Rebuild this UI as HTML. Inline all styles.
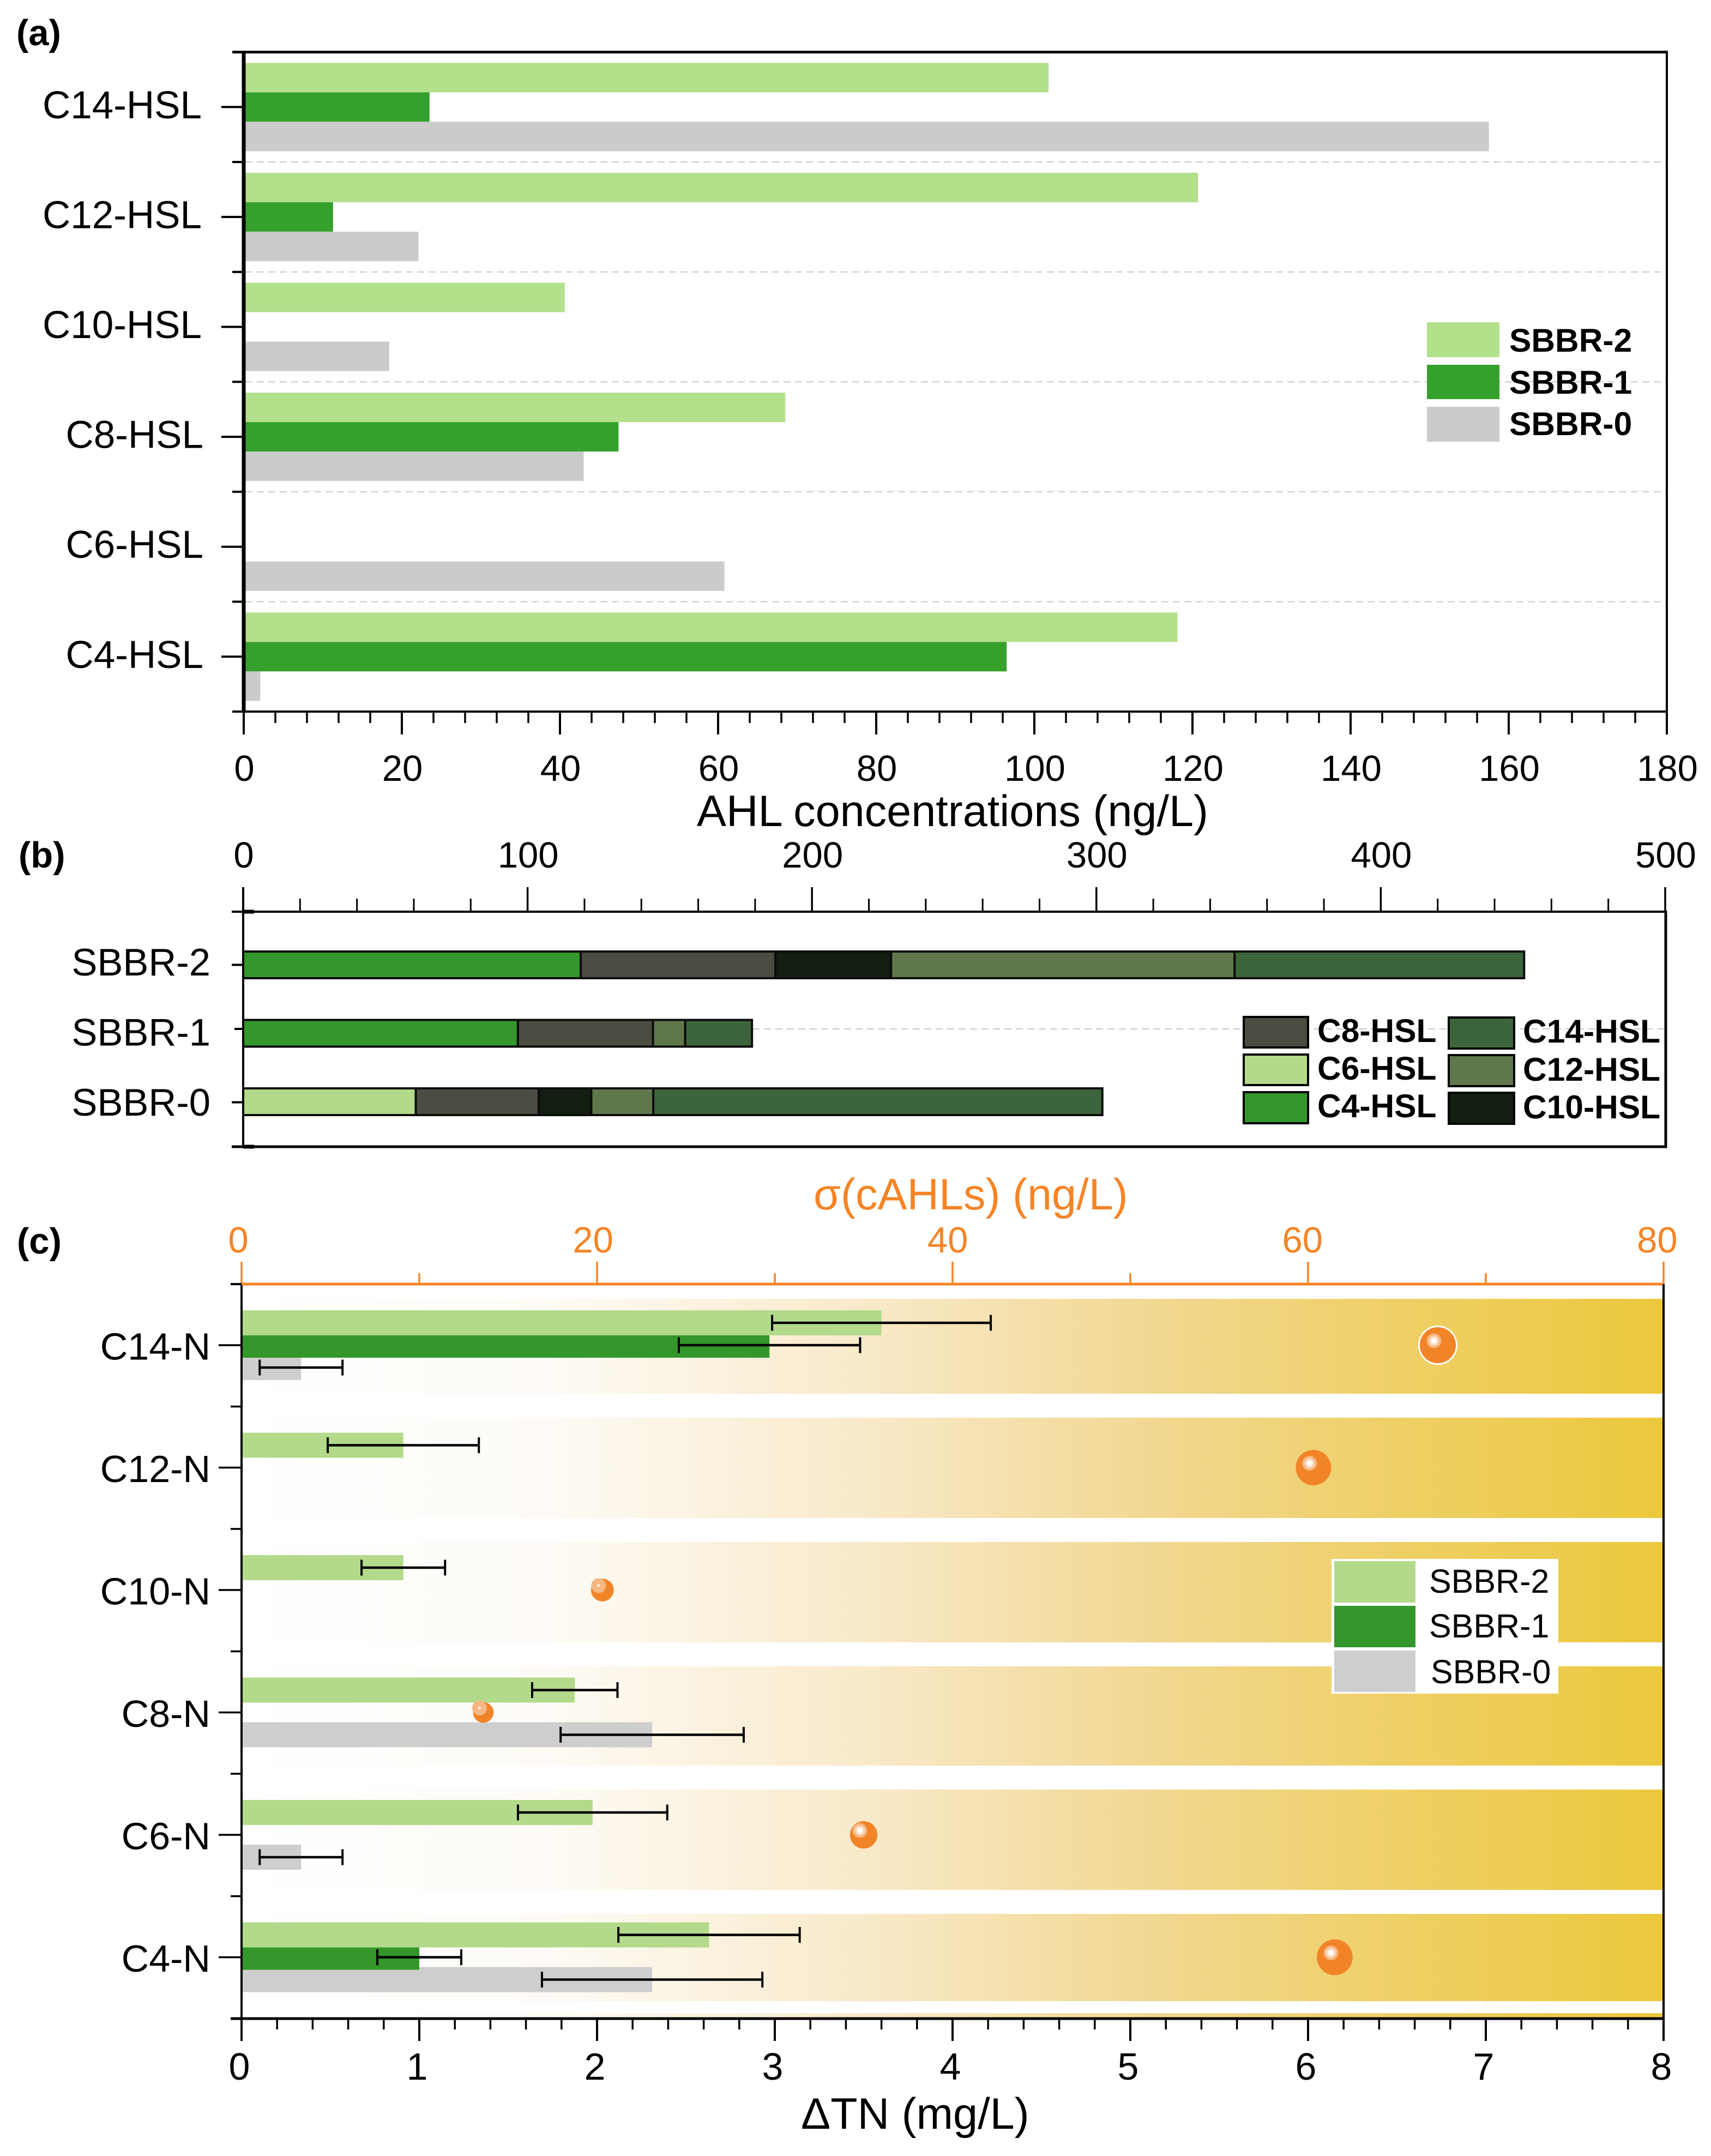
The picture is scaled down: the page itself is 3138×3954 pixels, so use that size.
<!DOCTYPE html>
<html lang="en">
<head>
<meta charset="utf-8">
<title>AHL concentrations and nitrogen removal</title>
<style>
html,body{margin:0;padding:0;background:#fff;width:3138px;height:3954px;overflow:hidden}
svg{display:block}
text{font-family:"Liberation Sans","DejaVu Sans",sans-serif;fill:#000}
.b{font-weight:700}
.o{fill:#f58426}
</style>
</head>
<body>
<svg id="figure" xmlns="http://www.w3.org/2000/svg" width="3138" height="3954" viewBox="0 0 3138 3954">
<defs>
<linearGradient id="bandGrad" gradientUnits="userSpaceOnUse" x1="443" y1="0" x2="3050" y2="0">
<stop offset="0" stop-color="#ffffff"/>
<stop offset="0.214" stop-color="#fefbf6"/>
<stop offset="0.445" stop-color="#f8e9c8"/>
<stop offset="0.65" stop-color="#f2d78f"/>
<stop offset="0.83" stop-color="#eecf62"/>
<stop offset="1" stop-color="#ecc83c"/>
</linearGradient>
</defs>
<rect width="3138" height="3954" fill="#fff"/>

<!-- PANEL A -->
<g>
<text class="b" x="30" y="83" font-size="67">(a)</text>
<g stroke="#c9c9c9" stroke-width="2" stroke-dasharray="13 8">
<line x1="450" x2="3055" y1="297" y2="297"/>
<line x1="450" x2="3055" y1="498.7" y2="498.7"/>
<line x1="450" x2="3055" y1="700.3" y2="700.3"/>
<line x1="450" x2="3055" y1="901.9" y2="901.9"/>
<line x1="450" x2="3055" y1="1103.5" y2="1103.5"/>
</g>
<g id="a-bars"></g>
<g id="a-ticks"></g>
<g stroke="#000">
<line x1="447" x2="447" y1="93" y2="1307" stroke-width="7"/>
<line x1="426" x2="3059" y1="95.5" y2="95.5" stroke-width="5"/>
<line x1="3057" x2="3057" y1="93" y2="1347" stroke-width="4"/>
<line x1="426" x2="3059" y1="1305" y2="1305" stroke-width="4"/>
</g>
<text x="1278" y="1515" font-size="81">AHL concentrations (ng/L)</text>
<g>
<rect x="2617" y="591" width="133" height="64" fill="#b3e08b"/>
<rect x="2617" y="669" width="133" height="63" fill="#36a02c"/>
<rect x="2617" y="746" width="133" height="64" fill="#cbcbcb"/>
<text class="b" x="2768" y="645" font-size="60.5">SBBR-2</text>
<text class="b" x="2768" y="722" font-size="60.5">SBBR-1</text>
<text class="b" x="2768" y="798" font-size="60.5">SBBR-0</text>
</g>
</g>

<!-- PANEL B -->
<g>
<text class="b" x="34" y="1591" font-size="67">(b)</text>
<line x1="1380" x2="3052" y1="1887" y2="1887" stroke="#c9c9c9" stroke-width="2" stroke-dasharray="13 8"/>
<g id="b-bars"></g>
<g id="b-ticks"></g>
<g stroke="#000">
<line x1="446" x2="446" y1="1627" y2="2105" stroke-width="4"/>
<line x1="425" x2="3057" y1="1672" y2="1672" stroke-width="4"/>
<line x1="3055" x2="3055" y1="1670" y2="2105" stroke-width="5"/>
<line x1="425" x2="3057" y1="2103" y2="2103" stroke-width="5"/>
<line x1="446" x2="466" y1="1672" y2="1672" stroke-width="7"/>
<line x1="446" x2="466" y1="2103" y2="2103" stroke-width="7"/>
</g>
<g stroke="#000" stroke-width="4">
<rect x="2281" y="1865" width="118" height="56" fill="#4b4d43"/>
<rect x="2281" y="1934" width="118" height="56" fill="#b2da8a"/>
<rect x="2281" y="2003" width="118" height="57" fill="#33972b"/>
<rect x="2657" y="1866" width="120" height="57" fill="#3d653b"/>
<rect x="2657" y="1935" width="120" height="57" fill="#60774b"/>
<rect x="2657" y="2004" width="120" height="57" fill="#121e10"/>
</g>
<g class="b" font-size="60.5">
<text x="2416" y="1911">C8-HSL</text>
<text x="2416" y="1980">C6-HSL</text>
<text x="2416" y="2049">C4-HSL</text>
<text x="2793" y="1912">C14-HSL</text>
<text x="2793" y="1982">C12-HSL</text>
<text x="2793" y="2051">C10-HSL</text>
</g>
</g>

<!-- PANEL C -->
<g>
<text class="b" x="31" y="2299" font-size="67">(c)</text>
<text class="o" x="1492" y="2218" font-size="81">σ(cAHLs) (ng/L)</text>
<g fill="url(#bandGrad)">
<rect x="445" y="2382" width="2604" height="174"/>
<rect x="445" y="2600" width="2604" height="184"/>
<rect x="445" y="2828" width="2604" height="184"/>
<rect x="445" y="3056" width="2604" height="182"/>
<rect x="445" y="3282" width="2604" height="184"/>
<rect x="445" y="3510" width="2604" height="160"/>
<rect x="445" y="3692" width="2604" height="10"/>
</g>
<g id="c-bars"></g>
<g id="c-errors"></g>
<g id="c-ticks"></g>
<g>
<line x1="443" x2="443" y1="2355" y2="3743" stroke="#000" stroke-width="4"/>
<line x1="423" x2="443" y1="2355" y2="2355" stroke="#000" stroke-width="4"/>
<line x1="443" x2="3052" y1="2355" y2="2355" stroke="#f58426" stroke-width="5"/>
<line x1="3051" x2="3051" y1="2355" y2="3704" stroke="#000" stroke-width="4"/>
<line x1="423" x2="3053" y1="3702" y2="3702" stroke="#000" stroke-width="5"/>
</g>
<g id="c-dots"></g>
<text x="1469" y="3904" font-size="81">ΔTN (mg/L)</text>
<g>
<rect x="2442" y="2859" width="416" height="247" fill="#fff"/>
<rect x="2447" y="2863" width="149" height="76" fill="#b2da8a"/>
<rect x="2447" y="2945" width="149" height="76" fill="#33972b"/>
<rect x="2447" y="3027" width="149" height="76" fill="#cecece"/>
<text x="2621" y="2921" font-size="61">SBBR-2</text>
<text x="2621" y="3003" font-size="61">SBBR-1</text>
<text x="2624" y="3087" font-size="61">SBBR-0</text>
</g>
</g>
</svg>

<script>
// ---------- Panel (a) data ----------
const aCategories = ['C14-HSL', 'C12-HSL', 'C10-HSL', 'C8-HSL', 'C6-HSL', 'C4-HSL'];
const aSbbr2 = [101.8, 120.7, 40.6, 68.5, 0, 118.1];
const aSbbr1 = [23.5, 11.3, 0, 47.4, 0, 96.5];
const aSbbr0 = [157.5, 22.1, 18.4, 43.0, 60.8, 2.1];
const aTickLabels = [0, 20, 40, 60, 80, 100, 120, 140, 160, 180];

// ---------- Panel (b) data (stack rows: SBBR-2, SBBR-1, SBBR-0) ----------
const bRows = ['SBBR-2', 'SBBR-1', 'SBBR-0'];
const bStackNames = ['C4', 'C6', 'C8', 'C10', 'C12', 'C14'];
const bC4 = [118.7, 96.6, 0];
const bC6 = [0, 0, 60.7];
const bC8 = [68.4, 47.5, 43.2];
const bC10 = [40.7, 0, 18.5];
const bC12 = [120.8, 11.3, 21.8];
const bC14 = [101.8, 23.5, 157.9];
const bTickLabels = [0, 100, 200, 300, 400, 500];

// ---------- Panel (c) data ----------
const cCategories = ['C14-N', 'C12-N', 'C10-N', 'C8-N', 'C6-N', 'C4-N'];
const cSbbr2 = [3.6, 0.91, 0.91, 1.875, 1.975, 2.63];
const cSbbr2Err = [0.615, 0.425, 0.235, 0.24, 0.42, 0.51];
const cSbbr1 = [2.97, 0, 0, 0, 0, 1.0];
const cSbbr1Err = [0.51, 0, 0, 0, 0, 0.236];
const cSbbr0 = [0.335, 0, 0, 2.31, 0.335, 2.31];
const cSbbr0Err = [0.233, 0, 0, 0.515, 0.233, 0.62];
const cSigma = [67.3, 60.3, 20.3, 13.6, 35, 61.5];
const cBottomTicks = [0, 1, 2, 3, 4, 5, 6, 7, 8];
const cTopTicks = [0, 20, 40, 60, 80];

// ---------- Colours ----------
const bStackColors = {C4: '#33972b', C6: '#b2da8a', C8: '#4b4d43', C10: '#121e10', C12: '#60774b', C14: '#3d653b'};
const bStackValues = {C4: bC4, C6: bC6, C8: bC8, C10: bC10, C12: bC12, C14: bC14};

// ---------- Axis functions ----------
function aX(v) { return 447 + v * 14.5; }
function aRowCenter(i) { return 196.3 + i * 201.6; }
function aBoundary(i) { return 95.5 + i * 201.6; }
function bX(v) { return 446 + v * 5.216; }
function bBarY(i) { return 1769.5 + i * 125.5; }
function bLabelY(i) { return 1789 + i * 128.5; }
function bTickY(i) { return i === 1 ? bBarY(i) - 8 : bBarY(i) + i / 2; }
function cX(v) { return 443 + v * 326; }
function cSigmaX(v) { return 443 + v * 32.6; }
function cRow(i) { return 2467 + i * 224.5; }
function cBoundary(i) { return 2355 + i * 224.5; }

// ---------- SVG helpers ----------
const NS = 'http://www.w3.org/2000/svg';
function shape(tag, parent, attrs) {
  const el = document.createElementNS(NS, tag);
  for (const k in attrs) { el.setAttribute(k, attrs[k]); }
  parent.appendChild(el);
  return el;
}
function hLine(parent, x1, x2, y, color, w) {
  return shape('line', parent, {x1: x1, x2: x2, y1: y, y2: y, stroke: color, 'stroke-width': w});
}
function vLine(parent, x, y1, y2, color, w) {
  return shape('line', parent, {x1: x, x2: x, y1: y1, y2: y2, stroke: color, 'stroke-width': w});
}
function label(parent, str, x, y, size, anchor, cls) {
  const el = shape('text', parent, {x: x, y: y, 'font-size': size, 'text-anchor': anchor});
  if (cls) { el.setAttribute('class', cls); }
  el.textContent = str;
  return el;
}

// ---------- Draw panel (a) ----------
const aBars = document.getElementById('a-bars');
const aTicks = document.getElementById('a-ticks');
aCategories.forEach(function (cat, i) {
  const c = aRowCenter(i);
  if (aSbbr2[i] > 0) {
    const r = shape('rect', aBars, {x: aX(0), y: c - 81, width: aX(aSbbr2[i]) - aX(0), height: 54, fill: '#b3e08b'});
    
    
  }
  if (aSbbr1[i] > 0) {
    const r = shape('rect', aBars, {x: aX(0), y: c - 27, width: aX(aSbbr1[i]) - aX(0), height: 54, fill: '#36a02c'});
    
    
  }
  if (aSbbr0[i] > 0) {
    const r = shape('rect', aBars, {x: aX(0), y: c + 27, width: aX(aSbbr0[i]) - aX(0), height: 54, fill: '#cbcbcb'});
    
    
  }
  const t = hLine(aTicks, 406, 447, c, '#000', 4);
  
  
  const l = label(aTicks, cat, i < 3 ? 370 : 373, c + 20.5, 71, 'end');
  
  
});
for (let i = 1; i < aCategories.length; i++) {
  const t = hLine(aTicks, 426, 447, aBoundary(i), '#000', 4);
  
  
}
aTickLabels.forEach(function (v, i) {
  const t = vLine(aTicks, aX(v), 1305, 1347, '#000', 4);
  
  
  const l = label(aTicks, String(v), aX(v) + 1, 1432, 67, 'middle');
  
  
  if (i < aTickLabels.length - 1) {
    const step = (aTickLabels[i + 1] - v) / 5;
    for (let k = 1; k < 5; k++) {
      const m = vLine(aTicks, aX(v + k * step), 1305, 1326, '#000', 3.5);
      
      
    }
  }
});

// ---------- Draw panel (b) ----------
const bBars = document.getElementById('b-bars');
const bTicks = document.getElementById('b-ticks');
bRows.forEach(function (row, i) {
  const y = bBarY(i);
  let sum = 0;
  bStackNames.forEach(function (nm) {
    const v = bStackValues[nm][i];
    if (v > 0) {
      const r = shape('rect', bBars, {x: bX(sum), y: y - 24.5, width: bX(sum + v) - bX(sum), height: 49, fill: bStackColors[nm], stroke: '#0c0c0c', 'stroke-width': 4});
      
      
    }
    sum += v;
  });
  const t = hLine(bTicks, i === 1 ? 430 : 425, 446, bTickY(i), '#000', 4);
  
  
  const l = label(bTicks, row, 386, bLabelY(i), 70.5, 'end');
  
  
});
bTickLabels.forEach(function (v, i) {
  const t = vLine(bTicks, bX(v), 1627, 1672, '#000', 3.5);
  
  
  const l = label(bTicks, String(v), bX(v) + 1, 1591, 67, 'middle');
  
  
  if (i < bTickLabels.length - 1) {
    const step = (bTickLabels[i + 1] - v) / 5;
    for (let k = 1; k < 5; k++) {
      const m = vLine(bTicks, bX(v + k * step), 1648, 1672, '#000', 3);
      
      
    }
  }
});

// ---------- Draw panel (c) ----------
const cBars = document.getElementById('c-bars');
const cErrors = document.getElementById('c-errors');
const cTicks = document.getElementById('c-ticks');
const cDots = document.getElementById('c-dots');

function errorBar(parent, value, err, y, name) {
  const g = shape('g', parent, {});
  
  
  hLine(g, cX(value - err), cX(value + err), y, '#000', 4.5);
  vLine(g, cX(value - err), y - 14.5, y + 14.5, '#000', 4);
  vLine(g, cX(value + err), y - 14.5, y + 14.5, '#000', 4);
}

cCategories.forEach(function (cat, i) {
  const c = cRow(i);
  const key = cat.toLowerCase();
  if (cSbbr0[i] > 0) {
    const r = shape('rect', cBars, {x: cX(0), y: c + 18, width: cX(cSbbr0[i]) - cX(0), height: 46, fill: '#cecece'});
    
    
    errorBar(cErrors, cSbbr0[i], cSbbr0Err[i], c + 41, 'error-bar-sbbr-0-' + key);
  }
  if (cSbbr1[i] > 0) {
    const r = shape('rect', cBars, {x: cX(0), y: c - 18, width: cX(cSbbr1[i]) - cX(0), height: 41, fill: '#33972b'});
    
    
    errorBar(cErrors, cSbbr1[i], cSbbr1Err[i], c, 'error-bar-sbbr-1-' + key);
  }
  if (cSbbr2[i] > 0) {
    const r = shape('rect', cBars, {x: cX(0), y: c - 64, width: cX(cSbbr2[i]) - cX(0), height: 46, fill: '#b2da8a'});
    
    
    errorBar(cErrors, cSbbr2[i], cSbbr2Err[i], c - 41, 'error-bar-sbbr-2-' + key);
  }
  const t = hLine(cTicks, 401, 443, c, '#000', 3.5);
  
  
  const l = label(cTicks, cat, 386, c + 26.5, 70, 'end');
  
  

  // sigma point: radius follows the sigma value
  const sx = cSigmaX(cSigma[i]);
  const rad = 15 + 0.29 * cSigma[i];
  const dot = shape('g', cDots, {});
  
  
  const body = {cx: sx, cy: c, r: rad, fill: '#f28428'};
  if (i === 0) { body.stroke = '#fff'; body['stroke-width'] = 3; }
  shape('circle', dot, body);
  shape('circle', dot, {cx: sx - 7, cy: c - 8, r: 13.5, fill: '#f6b783'});
  shape('circle', dot, {cx: sx - 7, cy: c - 8, r: rad > 24 ? 9 : 3, fill: '#fbdcc2'});
  shape('circle', dot, {cx: sx - 7, cy: c - 8, r: rad > 24 ? 5 : 1.5, fill: '#ffffff'});
});
for (let i = 1; i < cCategories.length; i++) {
  const t = hLine(cTicks, 423, 443, cBoundary(i), '#000', 3.5);
  
  
}
cBottomTicks.forEach(function (v, i) {
  const t = vLine(cTicks, cX(v), 3702, 3743, '#000', 4);
  
  
  const l = label(cTicks, String(v), cX(v) - 4, 3814, 70, 'middle');
  
  
  if (i < cBottomTicks.length - 1) {
    for (let k = 1; k < 5; k++) {
      const m = vLine(cTicks, cX(v + k / 5), 3702, 3722, '#000', 3.5);
      
      
    }
  }
});
cTopTicks.forEach(function (v, i) {
  const t = vLine(cTicks, cSigmaX(v), 2314, 2355, '#f58426', 3.5);
  
  
  const l = label(cTicks, String(v), 437 + 32.6 * v - v * 0.07, 2297, 67, 'middle', 'o');
  
  
  if (i < cTopTicks.length - 1) {
    const m = vLine(cTicks, cSigmaX(v + (cTopTicks[i + 1] - v) / 2), 2335, 2355, '#f58426', 3.5);
    
    
  }
});
</script>
</body>
</html>
